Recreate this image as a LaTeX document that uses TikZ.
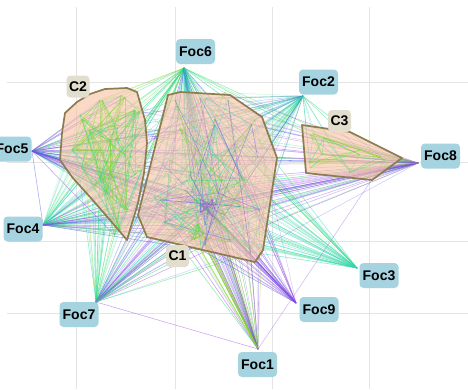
\documentclass[tikz,border=0pt]{standalone}
\usepackage{fontspec}
\setmainfont{Liberation Sans}
\definecolor{focblue}{RGB}{166,211,224}
\definecolor{clbeige}{RGB}{226,222,206}
\definecolor{hullfill}{RGB}{248,192,162}
\definecolor{hullline}{RGB}{140,124,78}
\definecolor{gridc}{RGB}{228,228,228}
\definecolor{eg}{RGB}{50,225,110}
\definecolor{ec}{RGB}{50,215,185}
\definecolor{eb}{RGB}{70,90,235}
\definecolor{ep}{RGB}{155,75,225}
\definecolor{el}{RGB}{130,215,40}
% random colour lists for the link bundles
\pgfmathdeclarerandomlist{gr6a}{{eg}{ec}{eg}{el}}
\pgfmathdeclarerandomlist{gr6b}{{eg}{ec}{eb}{eg}{ec}}
\pgfmathdeclarerandomlist{grg}{{eg}}
\pgfmathdeclarerandomlist{gr2}{{eg}{ec}{eg}{eb}}
\pgfmathdeclarerandomlist{grbc}{{eb}{ec}}
\pgfmathdeclarerandomlist{grgc}{{eg}{ec}}
\pgfmathdeclarerandomlist{gr5a}{{ec}{eg}{ep}}
\pgfmathdeclarerandomlist{gr5b}{{ep}{ep}{eb}{ec}}
\pgfmathdeclarerandomlist{gr4a}{{eg}{ec}}
\pgfmathdeclarerandomlist{gr4b}{{ep}{eb}{eg}{ec}}
\pgfmathdeclarerandomlist{gr7a}{{eg}{el}{ec}}
\pgfmathdeclarerandomlist{gr7b}{{ec}{eb}{ep}{eg}}
\pgfmathdeclarerandomlist{gr1}{{eg}{el}{ep}{ep}}
\pgfmathdeclarerandomlist{gr9}{{ep}{eb}{ep}}
\pgfmathdeclarerandomlist{gr3}{{eg}{ec}}
\pgfmathdeclarerandomlist{grc}{{ec}}
\pgfmathdeclarerandomlist{gr8}{{ep}{eb}{ep}{eg}}
\pgfmathdeclarerandomlist{grgl}{{eg}{el}}
\pgfmathdeclarerandomlist{grp}{{ep}}
\pgfmathdeclarerandomlist{grpb}{{ep}{ep}{eb}}
\pgfmathdeclarerandomlist{grl}{{el}{el}{eg}}
\pgfmathdeclarerandomlist{inC2}{{el}{el}{eg}{el}{ec}}
\pgfmathdeclarerandomlist{inC1}{{eg}{el}{ec}{ep}{eb}{eg}}
% links from one focal point to the items of a cluster
\newcommand\fanlinks[5]{%
  \foreach \k in {1,...,#3}{%
    \pgfmathtruncatemacro\keep{rnd<#5}%
    \ifnum\keep=1
      \pgfmathrandomitem{\col}{#4}%
      \pgfmathsetmacro\op{0.22+0.38*rnd}%
      \draw[link,draw=\col,draw opacity=\op] (#1) -- (#2\k);
    \fi}}
% links between items of one cluster
\newcommand\innerlinks[4]{%
  \foreach \i in {1,...,#2}{%
    \foreach \j in {1,...,#2}{%
      \pgfmathtruncatemacro\keep{(rnd<#4)*(\j>\i)}%
      \ifnum\keep=1
        \pgfmathrandomitem{\col}{#3}%
        \pgfmathsetmacro\op{0.25+0.4*rnd}%
        \draw[link,draw=\col,draw opacity=\op] (#1\i) -- (#1\j);
      \fi}}}
% a jittered twin for every item of a cluster
\newcommand\twinitems[3]{%
  \foreach \n in {1,...,#2}{%
    \pgfmathtruncatemacro\m{\n+#2}%
    \pgfmathsetmacro\dx{#3*rand}%
    \pgfmathsetmacro\dy{#3*rand}%
    \coordinate (#1\m) at ([shift={(\dx,\dy)}]#1\n);}}
% a tight group of items round one centre
\newcommand\coreitems[5]{%
  \foreach \n in {1,...,#2}{%
    \pgfmathsetmacro\dx{#5*rand}%
    \pgfmathsetmacro\dy{#5*rand}%
    \coordinate (#1\n) at (#3+\dx,#4+\dy);}}
\begin{document}
\begin{tikzpicture}[x=1pt,y=-1pt,
  foc/.style={fill=focblue,rounded corners=4pt,minimum width=39pt,minimum height=25pt,
    inner sep=0pt,font=\bfseries\fontsize{14}{14}\selectfont},
  clab/.style={fill=clbeige,rounded corners=4pt,minimum width=23pt,minimum height=22pt,
    inner sep=0pt,font=\bfseries\fontsize{14}{14}\selectfont},
  hullarea/.style={fill=hullfill,fill opacity=0.6},
  hullrim/.style={draw=hullline,line width=1.7pt,line join=round},
  link/.style={line width=0.55pt},
  gridline/.style={draw=gridc,line width=0.6pt}]
\useasboundingbox (0,0) rectangle (468,389);
\fill[white] (0,0) rectangle (468,389);
\pgfmathsetseed{4242}

% background grid
\foreach \gx in {76,175,272,369} \draw[gridline] (\gx,7) -- (\gx,389);
\foreach \gy in {82,162,241,313} \draw[gridline] (7,\gy) -- (468,\gy);

% focal points
\coordinate (f1) at (258,349);
\coordinate (f2) at (303,96);
\coordinate (f3) at (357,268);
\coordinate (f4) at (43,225);
\coordinate (f5) at (32,151);
\coordinate (f6) at (184,68);
\coordinate (f7) at (96,302);
\coordinate (f8) at (418,163);
\coordinate (f9) at (296,303);

% items of cluster C2
\foreach \n/\x/\y in {1/80/115,2/100/100,3/125/97,4/135/110,5/90/130,6/115/125,
  7/138/135,8/72/150,9/100/150,10/125/155,11/85/170,12/110/175,13/135/175,
  14/105/195,15/125/210,16/120/230,17/95/185,18/110/140}
  \coordinate (b\n) at (\x,\y);
\twinitems{b}{18}{7}
% items of cluster C1
\foreach \n/\x/\y in {1/175/100,2/200/98,3/228/100,4/255/120,5/215/125,6/185/130,
  7/170/160,8/200/160,9/235/150,10/265/160,11/160/200,12/185/190,13/205/205,
  14/210/212,15/198/212,16/215/198,17/225/215,18/240/200,19/260/210,20/180/225,
  21/200/235,22/205/245,23/230/240,24/250/250,25/165/225,26/190/175,27/245/180,
  28/220/180,29/205/225,30/195/200}
  \coordinate (a\n) at (\x,\y);
\twinitems{a}{30}{8}
% dense core of C1 and its lower group
\coreitems{d}{12}{207}{208}{9}
\coreitems{e}{10}{196}{232}{9}
% items of cluster C3
\foreach \n/\x/\y in {1/310/135,2/330/140,3/360/150,4/385/160,5/320/160,6/350/170,7/310/168}
  \coordinate (c\n) at (\x,\y);
\twinitems{c}{7}{6}

% links from the focal points
\fanlinks{f6}{b}{36}{gr6a}{0.7}
\fanlinks{f6}{a}{60}{gr6b}{0.8}
\fanlinks{f6}{d}{12}{grbc}{0.6}
\fanlinks{f6}{c}{14}{grg}{0.4}
\fanlinks{f2}{a}{60}{gr2}{0.7}
\fanlinks{f2}{b}{36}{grbc}{0.35}
\fanlinks{f2}{c}{14}{grgc}{0.7}
\fanlinks{f5}{b}{36}{gr5a}{0.7}
\fanlinks{f5}{a}{60}{gr5b}{0.45}
\fanlinks{f5}{d}{12}{grpb}{0.6}
\fanlinks{f4}{b}{36}{gr4a}{0.7}
\fanlinks{f4}{a}{60}{gr4b}{0.55}
\fanlinks{f4}{d}{12}{grpb}{0.6}
\fanlinks{f7}{b}{36}{gr7a}{0.6}
\fanlinks{f7}{a}{60}{gr7b}{0.65}
\fanlinks{f1}{a}{60}{gr1}{0.6}
\fanlinks{f1}{d}{12}{grpb}{0.8}
\fanlinks{f1}{e}{10}{grl}{1}
\fanlinks{f9}{a}{60}{gr9}{0.55}
\fanlinks{f9}{d}{12}{grpb}{1}
\fanlinks{f3}{a}{60}{gr3}{0.6}
\fanlinks{f3}{b}{36}{grc}{0.25}
\fanlinks{f8}{a}{60}{gr8}{0.55}
\fanlinks{f8}{d}{12}{grpb}{0.8}
\fanlinks{f8}{c}{14}{grgl}{1}
\fanlinks{f8}{b}{36}{grp}{0.25}
\draw[link,draw=ep,draw opacity=0.5] (f7) -- (f1);
\draw[link,draw=ep,draw opacity=0.4] (f1) -- (c4);
\draw[link,draw=eb,draw opacity=0.5] (f5) -- (f4);

% cluster hulls
\path[hullarea] (65,113) -- (77,102) -- (90,94) -- (105,89) -- (127,88) -- (137,92)
  -- (145,120) -- (147,143) -- (144,173) -- (138,203) -- (127,240) -- (110,220)
  -- (90,197) -- (72,177) -- (60,160) -- (62,133) -- cycle;
\path[hullarea] (168,95) -- (180,92) -- (230,95) -- (262,117) -- (277,158)
  -- (263,250) -- (255,262) -- (147,237) -- (138,215) -- (155,147) -- cycle;
\path[hullarea] (302,125) -- (350,132) -- (402,158) -- (372,180) -- (306,173) -- cycle;

% links inside the clusters
\innerlinks{b}{36}{inC2}{0.2}
\innerlinks{a}{60}{inC1}{0.05}
\innerlinks{d}{12}{grpb}{0.5}
\innerlinks{e}{10}{grl}{0.6}
\innerlinks{c}{14}{grgl}{0.3}

\draw[hullrim] (65,113) -- (77,102) -- (90,94) -- (105,89) -- (127,88) -- (137,92)
  -- (145,120) -- (147,143) -- (144,173) -- (138,203) -- (127,240) -- (110,220)
  -- (90,197) -- (72,177) -- (60,160) -- (62,133) -- cycle;
\draw[hullrim] (168,95) -- (180,92) -- (230,95) -- (262,117) -- (277,158)
  -- (263,250) -- (255,262) -- (147,237) -- (138,215) -- (155,147) -- cycle;
\draw[hullrim] (302,125) -- (350,132) -- (402,158) -- (372,180) -- (306,173) -- cycle;

% labels
\node[foc] (l6) at (195.5,51.5) {Foc6};
\node[foc] (l2) at (318.5,82) {Foc2};
\node[foc] (l5) at (12,149) {Foc5};
\node[foc] (l4) at (23,229) {Foc4};
\node[foc] (l8) at (440.5,156) {Foc8};
\node[foc] (l3) at (379,275.5) {Foc3};
\node[foc] (l9) at (319,309.5) {Foc9};
\node[foc] (l7) at (79,314.5) {Foc7};
\node[foc] (l1) at (257.5,364.5) {Foc1};
\node[clab] (k2) at (78,86.5) {C2};
\node[clab] (k1) at (177.5,256) {C1};
\node[clab] (k3) at (339.5,121) {C3};
\end{tikzpicture}
\end{document}
